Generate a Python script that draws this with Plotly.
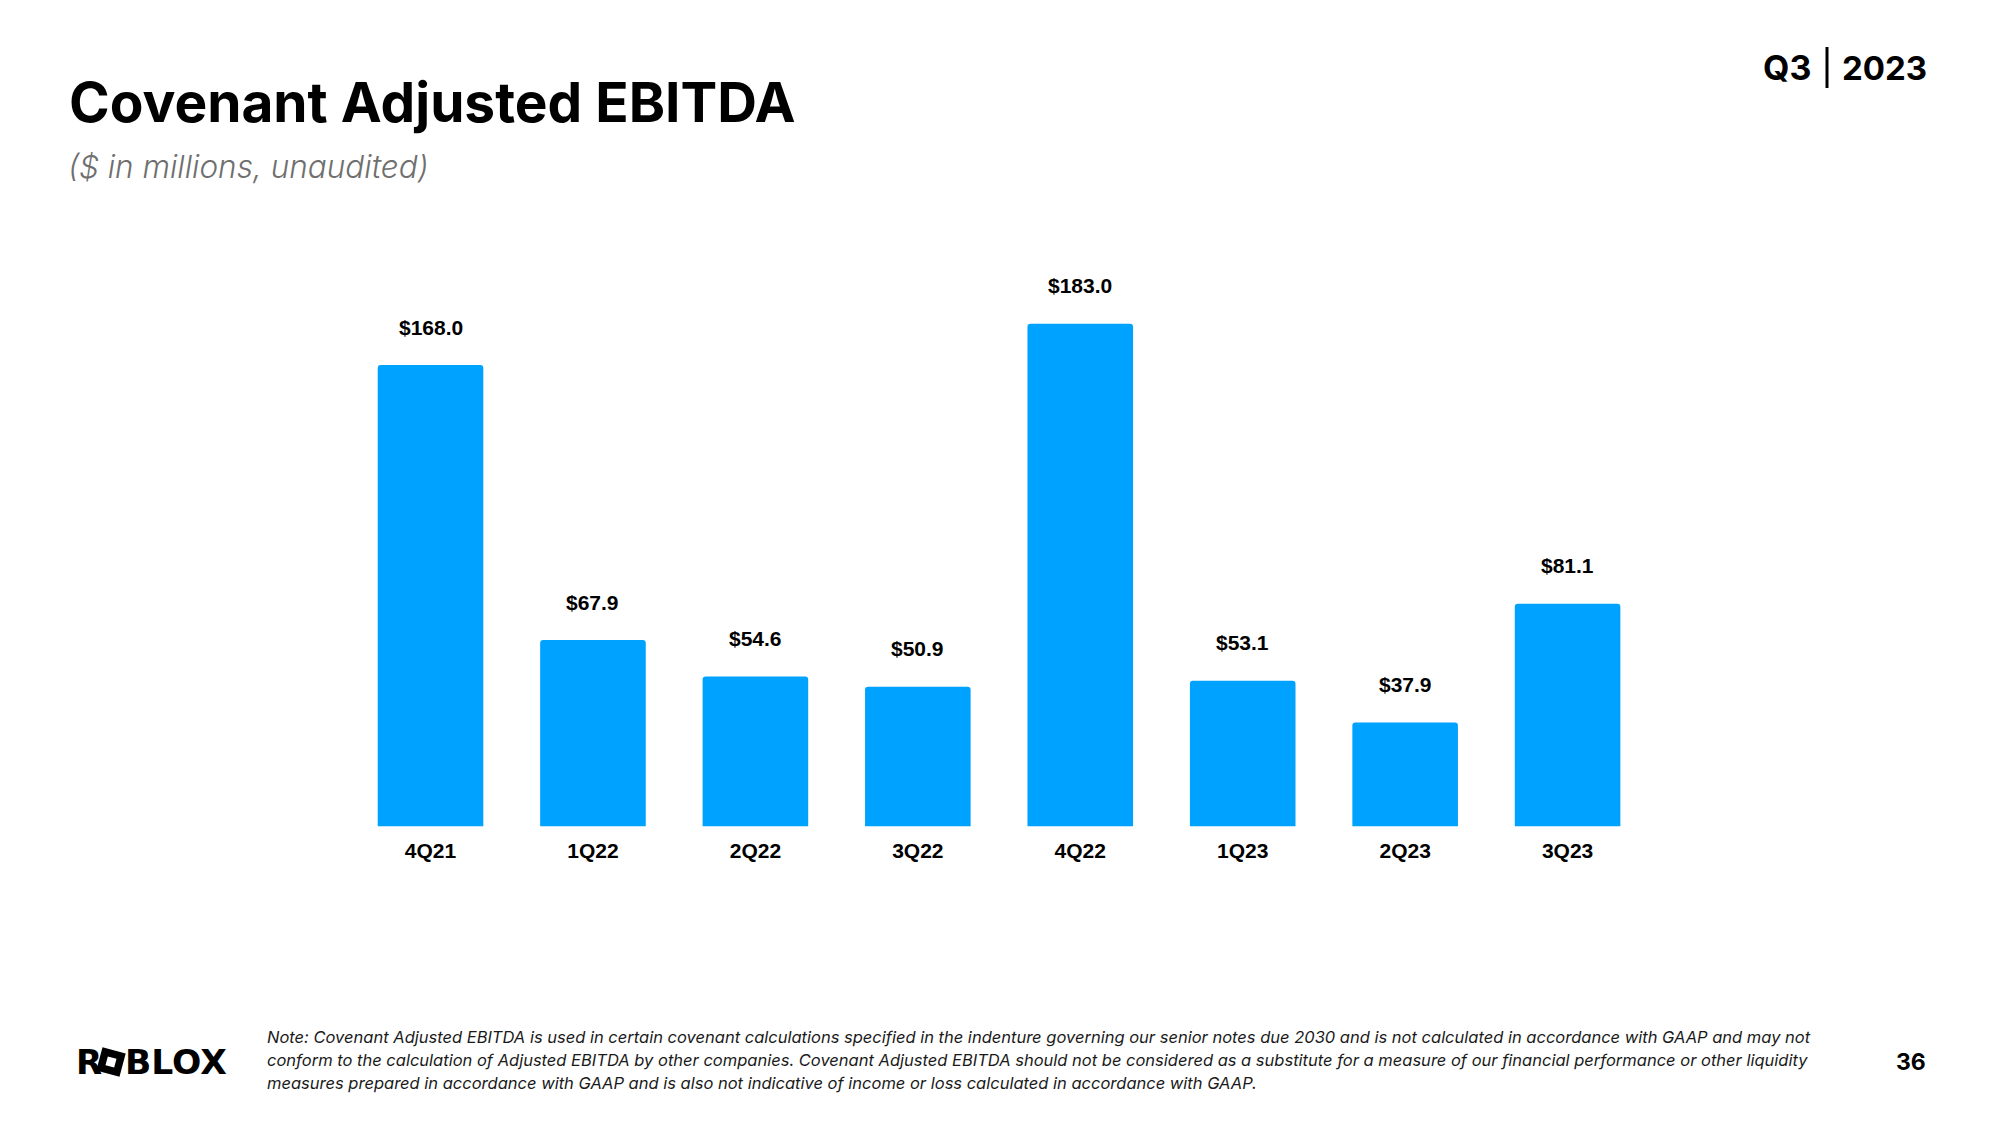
import math
import plotly.graph_objects as go

quarters = ["4Q21", "1Q22", "2Q22", "3Q22", "4Q22", "1Q23", "2Q23", "3Q23"]
ebitda = [168.0, 67.9, 54.6, 50.9, 183.0, 53.1, 37.9, 81.1]
value_labels = ["$168.0", "$67.9", "$54.6", "$50.9", "$183.0", "$53.1", "$37.9", "$81.1"]

title_text = "Covenant Adjusted EBITDA"
subtitle_text = "($ in millions, unaudited)"
note_lines = [
    "Note: Covenant Adjusted EBITDA is used in certain covenant calculations specified in the indenture governing our senior notes due 2030 and is not calculated in accordance with GAAP and may not",
    "conform to the calculation of Adjusted EBITDA by other companies. Covenant Adjusted EBITDA should not be considered as a substitute for a measure of our financial performance or other liquidity",
    "measures prepared in accordance with GAAP and is also not indicative of income or loss calculated in accordance with GAAP.",
]
page_number = "36"

W, H = 2000, 1125
BLUE = "#00A2FF"

def px(x):
    return x / W

def py(y):
    return 1 - y / H

fig = go.Figure()
fig.add_trace(go.Bar(
    x=quarters, y=ebitda,
    marker=dict(color=BLUE, line=dict(width=0), cornerradius=3),
    hoverinfo="skip",
))

annotations = []
for q, v, lab in zip(quarters, ebitda, value_labels):
    annotations.append(dict(
        x=q, y=v, xref="x", yref="y", text="<b>%s</b>" % lab, showarrow=False,
        yanchor="middle", xanchor="center", yshift=38,
        font=dict(family="Liberation Sans", size=21, color="#000000"),
    ))

# Title and subtitle
annotations.append(dict(
    x=px(67), y=py(102), xref="paper", yref="paper", text="<b>%s</b>" % title_text,
    showarrow=False, xanchor="left", yanchor="middle",
    font=dict(family="Inter", size=55, color="#000000"),
))
annotations.append(dict(
    x=px(66), y=py(167), xref="paper", yref="paper", text="<i>%s</i>" % subtitle_text,
    showarrow=False, xanchor="left", yanchor="middle",
    font=dict(family="Inter", size=31.5, color="#6f6f6f", weight=300),
))

# Q3 | 2023
annotations.append(dict(
    x=px(1813), y=py(68), xref="paper", yref="paper", text="<b>Q3</b>",
    showarrow=False, xanchor="right", yanchor="middle",
    font=dict(family="Inter", size=34, color="#000000"),
))
annotations.append(dict(
    x=px(1840), y=py(68), xref="paper", yref="paper", text="<b>2023</b>",
    showarrow=False, xanchor="left", yanchor="middle",
    font=dict(family="Inter", size=33, color="#000000"),
))

# Note lines
for i, line in enumerate(note_lines):
    annotations.append(dict(
        x=px(265), y=py(1037 + 23 * i), xref="paper", yref="paper", text="<i>%s</i>" % line,
        showarrow=False, xanchor="left", yanchor="middle",
        font=dict(family="Inter", size=16.5, color="#1a1a1a"),
    ))

# Page number
annotations.append(dict(
    x=px(1928), y=py(1062), xref="paper", yref="paper", text="<b>%s</b>" % page_number,
    showarrow=False, xanchor="right", yanchor="middle",
    font=dict(family="Inter", size=23, color="#000000"),
))

# Logo: R [tilted square] BLOX
annotations.append(dict(
    x=px(74), y=py(1062), xref="paper", yref="paper", text="<b>R</b>",
    showarrow=False, xanchor="left", yanchor="middle",
    font=dict(family="DejaVu Sans", size=34, color="#000000"),
))
annotations.append(dict(
    x=px(123), y=py(1062), xref="paper", yref="paper", text="<b>BLOX</b>",
    showarrow=False, xanchor="left", yanchor="middle",
    font=dict(family="DejaVu Sans", size=34.5, color="#000000"),
))

cx, cy, half, ang = 111, 1062, 12, math.radians(15)
def rot(dx, dy):
    return (cx + dx * math.cos(ang) - dy * math.sin(ang), cy + dx * math.sin(ang) + dy * math.cos(ang))
outer = [rot(-half, -half), rot(half, -half), rot(half, half), rot(-half, half)]
ih = 4.5
inner = [rot(-ih, -ih), rot(ih, -ih), rot(ih, ih), rot(-ih, ih)]
def path(pts):
    s = "M %f,%f " % (px(pts[0][0]), py(pts[0][1]))
    for p in pts[1:]:
        s += "L %f,%f " % (px(p[0]), py(p[1]))
    return s + "Z"

shapes = [
    dict(type="path", xref="paper", yref="paper", path=path(outer), fillcolor="#000000", line=dict(width=0)),
    dict(type="path", xref="paper", yref="paper", path=path(inner), fillcolor="#ffffff", line=dict(width=0)),
    dict(type="line", xref="paper", yref="paper", x0=px(1827), x1=px(1827), y0=py(47), y1=py(88),
         line=dict(color="#000000", width=3)),
]

fig.update_layout(
    width=W, height=H,
    margin=dict(l=0, r=0, t=0, b=0),
    paper_bgcolor="#ffffff", plot_bgcolor="#ffffff",
    showlegend=False,
    bargap=0.35,
    xaxis=dict(
        domain=[349.3 / W, 1648.8 / W],
        showgrid=False, zeroline=False, showline=False, ticks="",
        tickfont=dict(family="Liberation Sans", size=21, color="#000000"),
        ticklabelstandoff=9,
        tickvals=quarters, ticktext=["<b>%s</b>" % q for q in quarters],
    ),
    yaxis=dict(
        domain=[(H - 826.5) / H, 1 - 200 / H],
        range=[0, 228.1],
        showgrid=False, zeroline=False, showline=False, showticklabels=False, ticks="",
    ),
    annotations=annotations,
    shapes=shapes,
)

fig.write_html("out.html")
